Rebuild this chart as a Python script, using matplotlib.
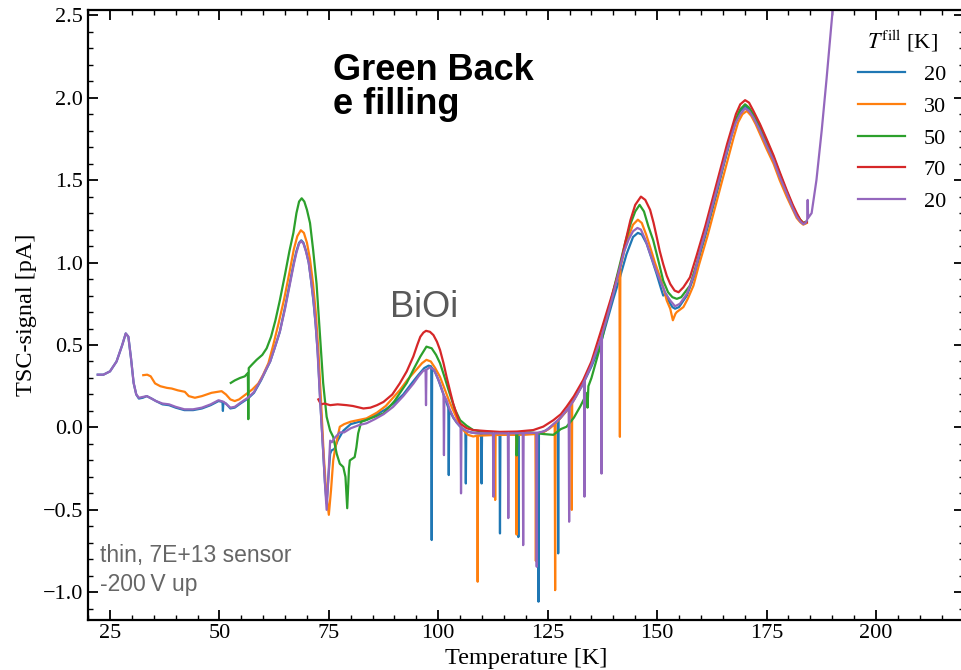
import numpy as np
import matplotlib
matplotlib.use("Agg")
import matplotlib.pyplot as plt
from matplotlib.ticker import MultipleLocator

plt.rcParams["font.family"] = ["Liberation Serif", "DejaVu Serif"]
plt.rcParams["mathtext.fontset"] = "stix"

# TSC scans: (temperature [K], signal [pA]) for each filling temperature
scan_20 = [
    (22.2, 0.32), (23.5, 0.32), (25.0, 0.34), (26.5, 0.40), (27.8, 0.50), (28.6, 0.57),
    (29.2, 0.55), (29.8, 0.42), (30.4, 0.27), (31.0, 0.20), (31.6, 0.175), (32.5, 0.18),
    (33.4, 0.19), (34.5, 0.175), (35.5, 0.16), (37.0, 0.14), (38.5, 0.135), (40.0, 0.12),
    (42.0, 0.105), (44.0, 0.105), (46.0, 0.115), (48.0, 0.135), (49.8, 0.16), (50.7, 0.155),
    (50.8, 0.10), (50.9, 0.15), (51.5, 0.145), (52.5, 0.115), (53.5, 0.12), (54.8, 0.145),
    (56.5, 0.175), (57.9, 0.21), (59.5, 0.285), (60.6, 0.345), (61.6, 0.40), (62.6, 0.48),
    (63.8, 0.58), (65.0, 0.73), (66.1, 0.88), (67.0, 1.00), (67.6, 1.07), (68.2, 1.12),
    (68.7, 1.135), (69.2, 1.12), (69.8, 1.07), (70.4, 1.00), (71.0, 0.88), (71.5, 0.76),
    (72.0, 0.62), (72.5, 0.44), (73.0, 0.18), (73.6, -0.10), (74.1, -0.33), (74.5, -0.46),
    (74.9, -0.30), (75.3, -0.16), (75.6, -0.14), (76.3, -0.13), (77.0, -0.08), (78.3, -0.02),
    (80.0, 0.02), (82.0, 0.035), (83.6, 0.045), (86.0, 0.08), (88.0, 0.11), (90.0, 0.15),
    (92.0, 0.20), (94.0, 0.27), (95.5, 0.32), (96.8, 0.36), (97.8, 0.375), (98.4, 0.37),
    (98.5, -0.683), (98.6, 0.36), (99.2, 0.34), (100.0, 0.29), (100.8, 0.23), (101.6, 0.17),
    (102.3, 0.12), (102.4, -0.289), (102.5, 0.11), (103.4, 0.06), (104.2, 0.03), (105.0, 0.005),
    (106.2, -0.02), (106.3, -0.34), (106.4, -0.022), (107.5, -0.03), (108.5, -0.035),
    (109.8, -0.038), (109.9, -0.34), (110.0, -0.038), (112.0, -0.04), (114.0, -0.04),
    (114.1, -0.643), (114.2, -0.04), (116.0, -0.04), (118.2, -0.04), (118.3, -0.665),
    (118.4, -0.04), (120.5, -0.038), (122.8, -0.035), (122.9, -1.057), (123.0, -0.035),
    (124.5, -0.02), (126.0, 0.01), (127.3, 0.04), (127.4, -0.764), (127.5, 0.045),
    (129.3, 0.10), (131.0, 0.17), (133.0, 0.26), (135.0, 0.37), (136.9, 0.49), (138.5, 0.64),
    (140.0, 0.78), (141.5, 0.91), (143.0, 1.05), (144.5, 1.155), (145.6, 1.18), (146.5, 1.17),
    (147.6, 1.115), (148.8, 1.02), (149.9, 0.93), (150.8, 0.85), (151.4, 0.80), (152.0, 0.81),
    (152.8, 0.76), (153.5, 0.73), (154.1, 0.72), (155.0, 0.73), (156.8, 0.80), (158.5, 0.92),
    (160.0, 1.07), (161.0, 1.16), (162.0, 1.26), (163.0, 1.36), (164.0, 1.46), (165.0, 1.57),
    (166.0, 1.67), (167.0, 1.77), (168.0, 1.86), (169.0, 1.92), (170.1, 1.95), (171.0, 1.93),
    (172.0, 1.89), (173.5, 1.81), (175.0, 1.72), (176.6, 1.63), (178.0, 1.53), (179.6, 1.43),
    (181.0, 1.34), (181.9, 1.29), (182.7, 1.255), (183.4, 1.235), (184.0, 1.24),
]

scan_30 = [
    (32.6, 0.317), (33.5, 0.32), (34.3, 0.31), (35.3, 0.267), (36.5, 0.25), (38.0, 0.24),
    (39.1, 0.236), (40.5, 0.225), (42.1, 0.216), (43.0, 0.19), (44.4, 0.18), (46.0, 0.19),
    (48.2, 0.21), (50.5, 0.22), (51.5, 0.20), (52.5, 0.17), (53.5, 0.16), (54.5, 0.17),
    (55.8, 0.196), (57.5, 0.23), (58.9, 0.267), (60.0, 0.32), (61.2, 0.39), (62.3, 0.50),
    (63.5, 0.63), (64.8, 0.78), (66.0, 0.94), (67.0, 1.08), (67.8, 1.16), (68.6, 1.196),
    (69.3, 1.18), (70.0, 1.12), (70.7, 1.02), (71.4, 0.87), (72.0, 0.70), (72.6, 0.47),
    (73.2, 0.17), (73.8, -0.15), (74.4, -0.40), (75.0, -0.53), (75.5, -0.38), (76.0, -0.20),
    (76.5, -0.12), (77.5, 0.004), (78.5, 0.02), (80.0, 0.035), (83.6, 0.055), (86.0, 0.09),
    (88.0, 0.13), (91.2, 0.226), (93.0, 0.29), (95.0, 0.35), (96.3, 0.39), (97.3, 0.41),
    (98.3, 0.40), (99.3, 0.36), (100.4, 0.307), (101.5, 0.23), (102.5, 0.16), (103.4, 0.105),
    (104.5, 0.04), (105.7, -0.016), (106.8, -0.045), (108.0, -0.055), (108.9, -0.05),
    (109.0, -0.936), (109.1, -0.05), (111.0, -0.048), (112.9, -0.046), (113.0, -0.44),
    (113.1, -0.046), (115.5, -0.045), (117.8, -0.045), (117.9, -0.65), (118.0, -0.045),
    (120.0, -0.044), (122.2, -0.04), (122.3, -0.81), (122.4, -0.04), (124.0, -0.03),
    (125.5, -0.005), (126.6, 0.02), (126.7, -0.987), (126.8, 0.025), (128.0, 0.06),
    (129.3, 0.10), (130.4, 0.145), (130.5, -0.50), (130.6, 0.15), (131.5, 0.19), (133.1, 0.27),
    (135.0, 0.39), (136.9, 0.52), (138.5, 0.67), (140.0, 0.82), (141.4, 0.96), (141.5, -0.057),
    (141.6, 0.97), (142.5, 1.07), (143.5, 1.16), (144.5, 1.23), (145.6, 1.26), (146.5, 1.24),
    (147.5, 1.17), (148.4, 1.095), (149.5, 1.00), (150.7, 0.91), (151.5, 0.84), (152.2, 0.77),
    (153.0, 0.72), (153.6, 0.65), (154.2, 0.69), (154.5, 0.70), (156.0, 0.73), (157.0, 0.78),
    (158.3, 0.86), (159.5, 0.98), (160.5, 1.07), (161.5, 1.16), (162.5, 1.26), (163.5, 1.36),
    (164.5, 1.46), (165.5, 1.56), (166.5, 1.66), (167.5, 1.76), (168.5, 1.85), (169.5, 1.90),
    (170.5, 1.92), (171.5, 1.89), (172.5, 1.84), (173.5, 1.78), (175.0, 1.69), (176.6, 1.60),
    (178.0, 1.50), (179.6, 1.40), (181.0, 1.32), (181.9, 1.27), (182.7, 1.245), (183.4, 1.23),
    (184.2, 1.24),
]

scan_50 = [
    (52.6, 0.27), (53.5, 0.285), (54.7, 0.30), (55.8, 0.31), (56.5, 0.33), (56.6, 0.05),
    (56.7, 0.36), (57.4, 0.38), (58.5, 0.41), (59.8, 0.44), (60.8, 0.48), (61.8, 0.55),
    (62.8, 0.65), (63.8, 0.77), (65.0, 0.93), (66.0, 1.07), (66.9, 1.18), (67.6, 1.30),
    (68.2, 1.37), (68.8, 1.39), (69.4, 1.37), (70.0, 1.32), (70.7, 1.24), (71.4, 1.08),
    (72.2, 0.87), (73.0, 0.55), (73.7, 0.27), (74.5, 0.064), (75.3, -0.02), (76.0, -0.057),
    (76.8, -0.16), (77.5, -0.22), (78.3, -0.24), (78.8, -0.30), (79.2, -0.49), (79.6, -0.25),
    (79.8, -0.20), (80.9, -0.18), (81.3, -0.12), (81.7, -0.036), (82.4, 0.034), (84.0, 0.05),
    (87.5, 0.085), (90.0, 0.16), (92.8, 0.27), (94.5, 0.36), (95.9, 0.43), (97.3, 0.49),
    (98.5, 0.48), (99.5, 0.44), (100.4, 0.39), (101.5, 0.30), (102.6, 0.206), (103.8, 0.11),
    (105.0, 0.044), (106.5, 0.01), (108.0, -0.016), (110.0, -0.025), (114.0, -0.03),
    (117.8, -0.03), (117.9, -0.17), (118.1, -0.035), (121.0, -0.03), (124.0, -0.04),
    (126.3, -0.045), (128.0, -0.01), (129.3, 0.004), (131.0, 0.06), (132.5, 0.13),
    (134.0, 0.21), (134.1, 0.12), (134.3, 0.25), (135.0, 0.30), (136.9, 0.48), (138.5, 0.66),
    (140.0, 0.83), (141.5, 0.99), (142.7, 1.12), (144.0, 1.24), (145.0, 1.31), (146.0, 1.35),
    (147.0, 1.31), (148.0, 1.22), (149.1, 1.136), (150.3, 1.01), (151.4, 0.89), (152.5, 0.82),
    (153.5, 0.79), (154.5, 0.78), (155.5, 0.79), (157.5, 0.86), (159.0, 0.99), (160.0, 1.09),
    (161.0, 1.18), (162.0, 1.28), (163.0, 1.38), (164.0, 1.48), (165.0, 1.58), (166.0, 1.68),
    (167.0, 1.78), (168.0, 1.87), (169.0, 1.93), (170.1, 1.96), (171.0, 1.94), (172.0, 1.90),
    (173.5, 1.83), (175.0, 1.74), (176.6, 1.64), (178.0, 1.54), (179.6, 1.43), (181.0, 1.34),
    (181.9, 1.29), (182.7, 1.26), (183.4, 1.24), (184.2, 1.25),
]

scan_70 = [
    (72.6, 0.17), (73.2, 0.14), (74.0, 0.145), (75.3, 0.135), (77.0, 0.14), (79.1, 0.135),
    (80.5, 0.13), (82.9, 0.115), (84.5, 0.12), (86.0, 0.135), (87.5, 0.155), (89.5, 0.20),
    (91.2, 0.267), (92.8, 0.34), (94.3, 0.43), (95.2, 0.50), (95.9, 0.55), (96.6, 0.575),
    (97.2, 0.586), (98.1, 0.58), (98.9, 0.56), (99.7, 0.52), (100.4, 0.47), (101.2, 0.39),
    (101.9, 0.307), (102.7, 0.22), (103.4, 0.146), (104.2, 0.08), (105.0, 0.024),
    (106.5, -0.005), (108.0, -0.016), (111.0, -0.022), (114.1, -0.027), (118.0, -0.025),
    (121.7, -0.016), (124.0, 0.005), (126.3, 0.044), (128.0, 0.08), (129.3, 0.125),
    (131.0, 0.19), (133.1, 0.287), (135.0, 0.40), (137.0, 0.57), (138.5, 0.70), (140.0, 0.83),
    (141.5, 0.97), (142.7, 1.12), (143.9, 1.257), (145.0, 1.35), (146.3, 1.40), (147.3, 1.38),
    (148.4, 1.32), (149.2, 1.24), (149.9, 1.156), (150.6, 1.07), (151.4, 0.99), (152.2, 0.92),
    (153.0, 0.87), (154.0, 0.83), (154.9, 0.82), (156.0, 0.85), (157.5, 0.91), (159.0, 1.04),
    (160.0, 1.13), (161.0, 1.22), (162.0, 1.32), (163.0, 1.42), (164.0, 1.52), (165.0, 1.62),
    (166.0, 1.72), (167.0, 1.81), (168.0, 1.90), (169.0, 1.96), (170.1, 1.985), (171.0, 1.97),
    (172.0, 1.92), (173.5, 1.84), (175.0, 1.75), (176.6, 1.65), (178.0, 1.55), (179.6, 1.44),
    (181.0, 1.35), (181.9, 1.30), (182.7, 1.26), (183.4, 1.24), (184.2, 1.245),
]

scan_20b = [
    (22.2, 0.32), (23.5, 0.32), (25.0, 0.34), (26.5, 0.40), (27.8, 0.50), (28.6, 0.57),
    (29.2, 0.55), (29.8, 0.42), (30.4, 0.27), (31.0, 0.20), (31.6, 0.18), (32.5, 0.185),
    (33.4, 0.19), (34.5, 0.175), (35.5, 0.16), (37.0, 0.145), (38.5, 0.14), (40.0, 0.125),
    (42.0, 0.11), (44.0, 0.11), (46.0, 0.12), (48.0, 0.14), (49.8, 0.165), (51.0, 0.155),
    (52.5, 0.12), (53.5, 0.125), (54.8, 0.15), (56.5, 0.18), (57.9, 0.215), (59.5, 0.29),
    (60.6, 0.35), (61.6, 0.40), (62.6, 0.48), (63.8, 0.58), (65.0, 0.72), (66.1, 0.87),
    (67.0, 0.99), (67.6, 1.06), (68.2, 1.115), (68.7, 1.13), (69.2, 1.115), (69.8, 1.065),
    (70.4, 1.00), (71.0, 0.88), (71.5, 0.77), (72.0, 0.62), (72.4, 0.47), (73.0, 0.17),
    (73.7, -0.14), (74.2, -0.38), (74.5, -0.50), (74.9, -0.30), (75.3, -0.08), (75.7, -0.09),
    (76.3, -0.065), (77.5, -0.03), (78.5, -0.03), (80.0, -0.005), (82.0, 0.015), (83.6, 0.025),
    (85.5, 0.05), (87.5, 0.08), (89.7, 0.125), (92.0, 0.19), (94.3, 0.265), (95.5, 0.31),
    (96.6, 0.345), (97.1, 0.345), (97.2, 0.135), (97.3, 0.35), (98.1, 0.365), (99.0, 0.35),
    (99.7, 0.31), (100.4, 0.265), (101.2, 0.20), (101.3, -0.168), (101.4, 0.19), (101.9, 0.165),
    (102.6, 0.11), (103.4, 0.064), (104.2, 0.03), (105.1, 0.004), (105.2, -0.40), (105.3, 0.0),
    (106.0, -0.015), (107.0, -0.028), (108.0, -0.033), (110.0, -0.035), (112.5, -0.036),
    (112.6, -0.42), (112.7, -0.036), (115.9, -0.036), (116.0, -0.55), (116.1, -0.036),
    (119.3, -0.035), (119.4, -0.714), (119.5, -0.035), (122.4, -0.032), (122.5, -0.845),
    (122.6, -0.032), (124.0, -0.025), (125.0, -0.012), (126.3, 0.02), (127.8, 0.055),
    (129.8, 0.12), (129.9, -0.572), (130.0, 0.125), (131.0, 0.165), (133.1, 0.265),
    (133.3, 0.28), (133.4, -0.42), (133.5, 0.29), (135.0, 0.38), (136.9, 0.52), (137.2, 0.545),
    (137.3, -0.28), (137.4, 0.56), (138.5, 0.66), (140.0, 0.81), (141.5, 0.97), (142.5, 1.07),
    (143.5, 1.14), (144.5, 1.19), (145.5, 1.21), (146.3, 1.20), (147.3, 1.14), (148.4, 1.055),
    (149.5, 0.97), (150.7, 0.89), (152.0, 0.81), (153.0, 0.77), (154.1, 0.735), (155.2, 0.75),
    (156.8, 0.81), (158.5, 0.93), (160.0, 1.09), (161.0, 1.18), (162.0, 1.28), (163.0, 1.38),
    (164.0, 1.48), (165.0, 1.58), (166.0, 1.68), (167.0, 1.77), (168.0, 1.85), (169.0, 1.90),
    (170.1, 1.935), (171.0, 1.92), (172.0, 1.88), (173.5, 1.80), (175.0, 1.71), (176.6, 1.62),
    (178.0, 1.52), (179.6, 1.42), (181.0, 1.33), (181.9, 1.28), (182.7, 1.25), (183.4, 1.233),
    (183.9, 1.24), (184.3, 1.26), (184.4, 1.38), (184.5, 1.27), (185.3, 1.30), (186.4, 1.50),
    (187.6, 1.80), (188.7, 2.11), (189.5, 2.35), (190.5, 2.65),
]

scans = [scan_20, scan_30, scan_50, scan_70, scan_20b]
fill_labels = ["20", "30", "50", "70", "20"]
colors = ["#1f77b4", "#ff7f0e", "#2ca02c", "#d62728", "#9467bd"]

W, H = 961, 670
fig = plt.figure(figsize=(W / 100, H / 100), dpi=100)
ax = fig.add_axes([88.1 / W, 50.5 / H, 875.4 / W, 610.0 / H])

for scan, lab, col in zip(scans, fill_labels, colors):
    t, s = np.array(scan).T
    ax.plot(t, s, color=col, lw=1.6, label=lab)

ax.set_xlim(20, 220)
ax.set_ylim(-1.165, 2.535)
ax.set_xticks([25, 50, 75, 100, 125, 150, 175, 200])
ax.xaxis.set_minor_locator(MultipleLocator(5))
ax.yaxis.set_major_locator(MultipleLocator(0.5))
ax.yaxis.set_minor_locator(MultipleLocator(0.1))
ax.tick_params(which="both", direction="in", top=True, right=True, labelsize=16)
ax.tick_params(which="major", length=7, width=1.3)
ax.tick_params(which="minor", length=3.5, width=1.0)
for sp in ax.spines.values():
    sp.set_linewidth(1.6)

ax.set_xlabel("Temperature [K]", fontsize=17.5, labelpad=3)
ax.set_ylabel("TSC-signal [pA]", fontsize=17.5, labelpad=4)

leg = ax.legend(title=r"$T^{\mathrm{fill}}$ [K]", loc="upper right",
                bbox_to_anchor=(946 / W, 1 - 28 / H), bbox_transform=fig.transFigure,
                frameon=False, fontsize=16, title_fontsize=16, handlelength=2.1,
                handletextpad=0.85, labelspacing=0.5, borderpad=0, borderaxespad=0)

sans = ["Liberation Sans", "DejaVu Sans"]
fig.text(333 / W, 1 - 80 / H, "Green Back", family=sans, fontweight="bold",
         fontsize=26, va="baseline", ha="left")
fig.text(333 / W, 1 - 114 / H, "e filling", family=sans, fontweight="bold",
         fontsize=26, va="baseline", ha="left")
fig.text(390 / W, 1 - 317 / H, "BiOi", family=sans, fontsize=26, color="#595959",
         va="baseline", ha="left")
fig.text(100 / W, 1 - 562 / H, "thin, 7E+13 sensor", family=sans, fontsize=16.5,
         color="#666666", va="baseline", ha="left")
fig.text(100 / W, 1 - 591 / H, "-200\u2009V up", family=sans, fontsize=16.5,
         color="#666666", va="baseline", ha="left")

fig.savefig("out.png", dpi=100)
